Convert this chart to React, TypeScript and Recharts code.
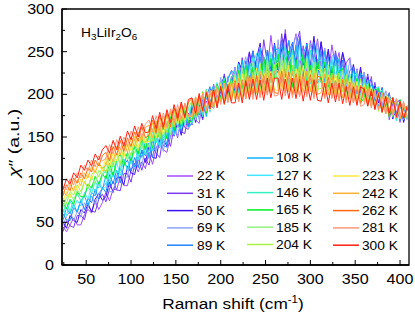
import React from 'react';
import { LineChart, Line, XAxis, YAxis, ReferenceArea, Legend } from 'recharts';

const ramanShift = [
  24, 28, 32, 36, 40, 44, 48, 52, 56, 60, 64, 68,
  72, 76, 80, 84, 88, 92, 96, 100, 104, 108, 112, 116,
  120, 124, 128, 132, 136, 140, 144, 148, 152, 156, 160, 164,
  168, 172, 176, 180, 184, 188, 192, 196, 200, 204, 208, 212,
  216, 220, 224, 228, 232, 236, 240, 244, 248, 252, 256, 260,
  264, 268, 272, 276, 280, 284, 288, 292, 296, 300, 304, 308,
  312, 316, 320, 324, 328, 332, 336, 340, 344, 348, 352, 356,
  360, 364, 368, 372, 376, 380, 384, 388, 392, 396, 400, 404,
  408,
];

const temperatures = ['22 K', '31 K', '50 K', '69 K', '89 K', '108 K', '127 K', '146 K', '165 K', '185 K', '204 K', '223 K', '242 K', '262 K', '281 K', '300 K'];
const colors = ['#A04CF8', '#7A3AF0', '#3A12F0', '#8FA2FF', '#2482FF', '#0CB2FF', '#44E6FF', '#34F0C2', '#00F020', '#92F282', '#A8F040', '#FFE840', '#FFB030', '#FF6A10', '#FF9878', '#FF2010'];

const s22 = [45,39,47,55,47,47,59,65,61,75,65,73, 85,75,89,88,104,93,93,111,119,109,121,113, 132,118,137,147,135,132,151,162,149,173,161,159, 183,170,166,194,192,181,212,194,215,193,217,228, 208,237,206,232,250,226,215,253,244,227,269,235, 255,228,276,237,253,271,232,257,223,263,241,265, 231,254,221,258,233,249,214,237,243,212,230,202, 226,201,221,188,204,184,204,170,190,193,167,185, 171];
const s31 = [39,52,46,44,58,58,53,70,63,62,77,83, 74,89,98,88,87,107,107,97,118,125,111,125, 117,138,131,126,152,151,139,161,170,156,154,178, 164,189,184,170,200,187,184,211,201,224,200,212, 232,208,243,209,235,251,227,218,264,236,225,257, 227,271,239,263,225,258,274,233,254,226,263,235, 262,227,250,219,251,227,249,217,208,234,206,229, 202,224,198,214,183,204,185,202,174,179,191,169, 184];
const s50 = [51,43,58,52,50,65,61,72,62,77,84,76, 80,97,85,102,103,94,116,108,106,125,133,120, 139,126,125,148,147,139,165,151,168,152,173,163, 186,167,188,172,204,188,206,187,210,221,200,218, 203,238,228,210,249,221,242,260,220,250,219,260, 227,253,271,225,258,237,266,220,260,233,268,227, 261,231,253,219,244,218,249,232,208,235,208,232, 202,220,191,210,190,208,179,198,171,191,193,167, 183];
const s69 = [46,57,63,52,63,56,73,67,81,71,84,90, 96,86,86,105,113,103,103,126,112,125,116,139, 124,146,134,150,133,159,148,169,151,169,178,160, 166,192,170,192,175,206,202,189,220,198,221,199, 232,204,229,244,208,236,220,255,215,252,242,222, 264,228,259,220,253,269,226,249,220,260,231,262, 226,254,216,245,247,214,235,212,241,212,229,196, 226,197,212,187,208,187,204,176,195,169,187,189, 170];
const s89 = [60,53,52,67,62,76,65,78,73,89,77,91, 85,106,95,111,96,117,123,110,126,114,135,128, 143,126,147,156,140,138,166,154,176,157,177,162, 189,171,197,174,197,209,183,210,197,220,195,221, 199,236,208,239,205,251,222,244,211,252,229,258, 225,264,220,249,261,224,268,218,250,231,261,220, 251,214,244,217,248,218,240,206,228,232,200,223, 197,215,217,190,208,179,197,201,175,191,169,184, 186];
const s108 = [52,67,60,71,62,76,81,70,85,81,97,88, 105,92,109,96,118,124,112,125,115,135,126,145, 126,148,156,138,156,141,167,154,178,158,177,162, 167,195,176,199,174,202,210,187,209,190,219,227, 225,198,240,211,238,204,235,254,216,238,214,254, 252,213,244,263,222,257,218,247,259,219,242,213, 221,250,214,241,220,242,210,230,200,231,205,225, 219,191,212,204,184,207,181,199,173,195,174,187, 172];
const s127 = [66,58,75,66,76,69,85,77,93,87,98,88, 92,113,103,120,105,124,110,131,138,123,142,131, 150,134,152,137,164,151,167,152,162,182,164,185, 166,189,198,176,200,179,202,214,192,217,191,217, 198,235,208,235,201,235,248,210,237,207,249,225, 253,221,248,209,252,225,258,215,245,212,240,254, 214,242,218,244,207,233,208,234,202,222,224,193, 199,217,190,207,209,181,200,181,197,169,190,170, 185];
const s146 = [61,73,63,77,84,75,81,92,84,98,90,105, 111,98,120,108,110,130,129,118,139,128,146,129, 134,158,143,160,143,168,153,177,162,160,184,169, 192,170,191,174,206,187,208,186,210,219,194,219, 227,199,235,199,229,243,208,231,205,245,218,243, 210,242,256,215,250,207,239,246,215,252,210,238, 240,209,235,210,239,211,231,201,224,201,225,195, 218,195,209,183,202,205,177,194,196,171,189,171, 182];
const s165 = [73,66,77,71,86,80,80,95,90,104,95,107, 101,119,105,123,130,116,132,122,140,130,149,135, 153,137,161,147,163,148,174,158,181,163,181,167, 169,194,176,203,178,203,186,212,194,216,191,219, 197,228,207,234,201,232,226,203,244,213,242,218, 247,212,236,251,208,241,216,247,209,234,203,241, 214,238,208,233,201,227,230,202,221,196,219,190, 196,213,186,205,207,182,195,173,195,173,194,173, 175];
const s185 = [67,79,84,76,88,83,98,90,103,95,111,105, 120,108,123,130,116,133,123,141,131,149,135,151, 138,160,148,168,150,169,153,178,164,185,167,184, 193,170,194,179,205,182,206,192,214,190,214,196, 223,194,231,202,223,237,202,233,206,240,213,235, 207,245,214,239,246,206,235,209,242,214,238,201, 233,208,234,203,225,205,228,199,221,195,215,196, 213,189,209,187,202,178,201,179,196,172,189,189, 171];
const s204 = [79,72,86,82,94,86,98,91,106,111,103,115, 108,126,115,131,119,138,140,128,147,134,151,142, 159,145,166,148,168,155,178,162,181,165,185,170, 172,197,179,201,180,204,183,210,191,213,192,216, 196,224,202,229,200,226,201,236,208,234,203,233, 238,209,241,206,234,202,236,210,238,205,230,206, 207,231,204,225,199,225,203,223,195,216,194,218, 193,212,187,205,180,201,182,198,174,193,172,187, 184];
const s223 = [74,86,79,93,87,101,95,107,100,113,118,110, 126,115,132,122,136,126,144,134,151,138,154,143, 145,166,149,169,153,175,161,181,165,184,170,190, 194,175,199,180,201,182,205,186,212,192,214,196, 220,196,224,196,223,204,231,202,228,202,227,206, 204,234,207,234,201,230,208,234,204,228,201,230, 227,201,223,201,224,200,218,194,219,195,215,191, 211,188,209,185,202,179,200,178,194,173,192,173, 186];
const s242 = [87,81,95,87,100,93,108,102,116,108,120,113, 117,133,121,139,129,144,132,149,139,156,145,161, 164,149,169,153,175,160,180,164,183,169,189,174, 174,197,179,202,181,203,184,207,191,213,192,215, 194,219,195,221,197,222,202,227,201,226,202,227, 228,204,230,203,227,201,226,202,227,203,225,200, 202,224,199,223,197,218,196,218,195,214,190,211, 191,208,185,203,182,202,177,196,178,194,171,189, 174];
const s262 = [81,94,87,102,96,108,101,114,109,123,116,128, 132,122,139,129,146,133,149,139,156,145,162,149, 152,170,155,175,159,178,162,184,169,189,172,191, 195,175,198,180,203,185,207,187,210,188,212,192, 216,192,217,195,222,199,222,197,222,200,225,202, 201,227,202,226,199,224,198,224,200,223,197,221, 220,197,220,196,216,193,217,193,214,190,210,189, 208,187,206,184,202,180,197,175,196,175,191,171, 187];
const s281 = [93,88,101,94,108,102,117,110,123,115,128,122, 125,141,130,147,135,150,139,157,146,162,150,165, 170,156,175,159,178,162,183,168,188,171,190,175, 176,197,178,200,182,205,186,208,188,210,190,211, 214,191,216,195,219,194,218,196,221,199,222,198, 199,223,198,222,196,220,197,221,197,220,195,218, 216,195,217,195,215,192,212,190,213,190,210,186, 188,206,184,204,182,200,177,196,176,195,174,192, 174];
const s300 = [88,101,95,108,102,117,111,123,116,130,123,135, 140,131,146,135,151,139,157,147,163,150,166,155, 156,175,160,179,162,182,167,188,172,191,173,194, 196,178,201,181,202,183,205,184,209,189,210,190, 190,213,190,216,194,218,194,217,193,219,196,219, 219,194,218,195,219,195,218,192,216,193,217,193, 192,213,190,213,191,213,189,209,187,209,187,209, 206,186,204,182,200,179,198,178,196,173,192,172, 185];

const seriesValues = [s22, s31, s50, s69, s89, s108, s127, s146, s165, s185, s204, s223, s242, s262, s281, s300];

const xTicks = [25, 50, 75, 100, 125, 150, 175, 200, 225, 250, 275, 300, 325, 350, 375, 400];
const yTicks = [0, 25, 50, 75, 100, 125, 150, 175, 200, 225, 250, 275, 300];

const data = ramanShift.map((x, i) => {
  const row: Record<string, number> = { x };
  seriesValues.forEach((s, j) => {
    row['t' + j] = s[i];
  });
  return row;
});

const FONT = '"Liberation Sans", Arial, Helvetica, sans-serif';
const SX = 1.15;

const stretch = (ax: number, k: number = SX) => `translate(${ax} 0) scale(${k} 1) translate(${-ax} 0)`;

const XTick = (props: any) => {
  const { x, y, payload } = props;
  const v = payload.value;
  const major = v % 50 === 0;
  return (
    <g>
      <line x1={x} x2={x} y1={y} y2={y - (major ? 5 : 3)} stroke="#000" strokeWidth={1} />
      {major && (
        <text x={x} y={y + 19} textAnchor="middle" fontSize={14} fontFamily={FONT} fill="#000" transform={stretch(x)}>
          {v}
        </text>
      )}
    </g>
  );
};

const YTick = (props: any) => {
  const { x, y, payload } = props;
  const v = payload.value;
  const major = v % 50 === 0;
  return (
    <g>
      <line x1={x} x2={x + (major ? 5 : 3)} y1={y} y2={y} stroke="#000" strokeWidth={1} />
      {major && (
        <text x={x - 8} y={y + 5} textAnchor="end" fontSize={14} fontFamily={FONT} fill="#000" transform={stretch(x - 8)}>
          {v}
        </text>
      )}
    </g>
  );
};

const legendCols = [
  { start: 0, count: 5, lx: 167, tx: 197, y0: 176 },
  { start: 5, count: 6, lx: 247, tx: 276, y0: 158 },
  { start: 11, count: 5, lx: 333, tx: 362, y0: 176 },
];

const renderLegend = (props: any) => {
  const payload: any[] = props.payload || [];
  const items: any[] = [];
  legendCols.forEach((c) => {
    for (let k = 0; k < c.count; k++) {
      const idx = c.start + k;
      const name = temperatures[idx];
      const found = payload.find((p) => p.value === name);
      const color = (found && found.color) || colors[idx];
      const y = c.y0 + k * 17.3;
      items.push(
        <g key={name}>
          <line x1={c.lx} x2={c.lx + 26} y1={y} y2={y} stroke={color} strokeWidth={1.5} />
          <text x={c.tx} y={y + 4.5} fontSize={12.5} fontFamily={FONT} fill="#000" transform={stretch(c.tx, 1.1)}>
            {name}
          </text>
        </g>
      );
    }
  });
  return (
    <svg width={415} height={317} style={{ display: 'block', overflow: 'visible' }}>
      {items}
    </svg>
  );
};

export default function App() {
  return (
    <div style={{ position: 'absolute', left: 0, top: 0, width: 415, height: 317, background: '#fff' }}>
      <LineChart width={415} height={317} data={data} margin={{ top: 9, right: 6, bottom: 0, left: 0 }}>
        <XAxis
          dataKey="x"
          type="number"
          domain={[23, 410]}
          ticks={xTicks}
          height={52}
          tickSize={0}
          tickMargin={0}
          tickLine={false}
          tick={<XTick />}
          axisLine={{ stroke: '#000', strokeWidth: 1.3 }}
          allowDataOverflow
          interval={0}
        />
        <YAxis
          type="number"
          domain={[0, 300]}
          ticks={yTicks}
          width={62}
          tickSize={0}
          tickMargin={0}
          tickLine={false}
          tick={<YTick />}
          axisLine={{ stroke: '#000', strokeWidth: 1.3 }}
          allowDataOverflow
          interval={0}
        />
        {temperatures.map((t, j) => (
          <Line
            key={t}
            type="linear"
            dataKey={'t' + j}
            name={t}
            stroke={colors[j]}
            strokeWidth={1}
            dot={false}
            activeDot={false}
            isAnimationActive={false}
          />
        ))}
        <ReferenceArea x1={23} x2={410} y1={0} y2={300} fill="none" stroke="#000" strokeWidth={1.3} ifOverflow="visible" />
        <Legend
          layout="horizontal"
          verticalAlign="middle"
          align="center"
          content={renderLegend}
          wrapperStyle={{ position: 'absolute', left: 0, top: 0, width: 415, height: 317, pointerEvents: 'none' }}
        />
      </LineChart>
      <svg width={415} height={317} style={{ position: 'absolute', left: 0, top: 0, pointerEvents: 'none' }}>
        <text x={81} y={37} fontSize={12.5} fontFamily={FONT} fill="#000" transform={stretch(81, 1.1)}>
          H<tspan fontSize={9} dy={3}>3</tspan>
          <tspan dy={-3}>LiIr</tspan>
          <tspan fontSize={9} dy={3}>2</tspan>
          <tspan dy={-3}>O</tspan>
          <tspan fontSize={9} dy={3}>6</tspan>
        </text>
        <text x={233} y={309} textAnchor="middle" fontSize={15} fontFamily={FONT} fill="#000" transform={stretch(233)}>
          Raman shift (cm<tspan fontSize={10} dy={-6}>-1</tspan>
          <tspan dy={6}>)</tspan>
        </text>
        <text
          x={0}
          y={0}
          textAnchor="middle"
          fontSize={15}
          fontFamily={FONT}
          fill="#000"
          transform="translate(19 143) rotate(-90) scale(1.3 1)"
        >
          <tspan fontStyle="italic">χ</tspan>″ (a.u.)
        </text>
      </svg>
    </div>
  );
}
